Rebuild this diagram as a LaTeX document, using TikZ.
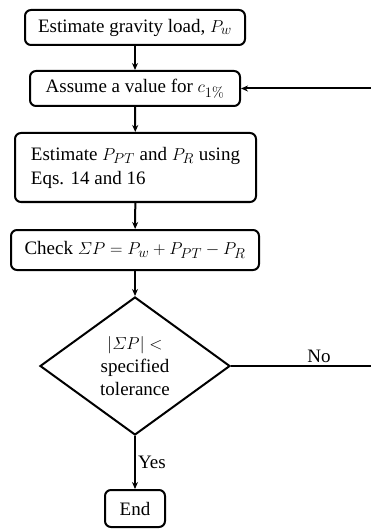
\documentclass[tikz,border=0pt]{standalone}
\usepackage{amsmath}
\usepackage[no-math]{fontspec}
\setmainfont{Liberation Serif}
\usetikzlibrary{shapes.geometric, arrows.meta}

\begin{document}
\begin{tikzpicture}[x=1pt, y=-1pt,
    every node/.style={font=\fontsize{19}{22}\selectfont},
    stepbox/.style={rectangle, draw, rounded corners=6pt, line width=2pt, inner sep=3pt},
    decision/.style={diamond, draw, line width=2pt, minimum width=190pt, minimum height=138pt, inner sep=0pt, align=center, font=\fontsize{19}{23}\selectfont},
    flow/.style={-{Stealth[length=7pt, width=6pt]}, line width=2pt}]
        \path[use as bounding box, clip] (0, 0) rectangle (371, 529);
        \node[stepbox, minimum width=220pt, minimum height=35pt] (gravity) at (135, 27.5) {Estimate gravity load, $P_w$};
        \node[stepbox, minimum width=210pt, minimum height=35pt] (assume) at (135, 88.5) {Assume a value for $c_{1\%}$};
        \node[stepbox, minimum width=241pt, minimum height=69pt, align=left, font=\fontsize{19}{24}\selectfont] (estimate) at (135.5, 167.5) {Estimate $P_{PT}$ and $P_R$ using\\Eqs. 14 and 16};
        \node[stepbox, minimum width=248pt, minimum height=40pt] (check) at (135, 250) {Check $\varSigma P = P_w + P_{PT} - P_R$};
        \node[decision] (tol) at (135, 366) {$|\varSigma P| <$\\specified\\tolerance};
        \node[stepbox, minimum width=60pt, minimum height=37pt] (finish) at (135, 508.5) {End};
        \coordinate (loopback) at (380, 88.5);
        \draw[flow] (gravity) -- (assume);
        \draw[flow] (assume) -- (estimate);
        \draw[flow] (estimate) -- (check);
        \draw[flow] (check) -- (tol);
        \draw[flow] (tol.south) -- node[right, inner sep=2pt] {Yes} (finish);
        \draw[flow] (tol.east) -- node[above, pos=0.59, inner sep=2pt] {No} (tol.east -| loopback) |- (assume.east);
    \end{tikzpicture}
\end{document}
